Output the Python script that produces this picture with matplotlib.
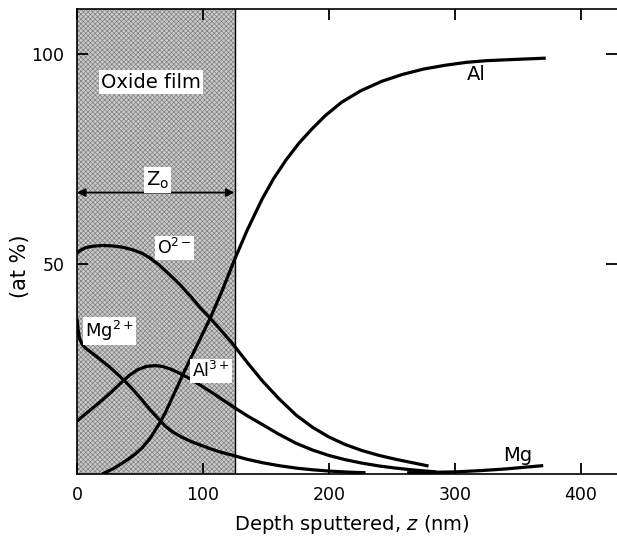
import matplotlib.pyplot as plt
import numpy as np

plt.rcParams['font.family'] = 'DejaVu Sans'
plt.rcParams['mathtext.fontset'] = 'dejavusans'
plt.rcParams['hatch.linewidth'] = 0.5

# depth profiles (at %) vs depth sputtered (nm)
al_x = [20, 25, 30, 35, 40, 46, 52, 58, 65, 70, 75, 80, 85, 91, 97, 106, 115, 125, 135, 147, 156, 166,
        176, 186, 197, 210, 225, 242, 258, 275, 292, 309, 325, 340, 356, 372]
al_y = [0, 0.7, 1.5, 2.4, 3.4, 4.7, 6.3, 8.5, 11.8, 14.5, 17.8, 21, 24.3, 28, 31.7, 37.3, 43.5, 51, 58, 65.5, 70.3, 74.8,
        78.7, 82, 85.3, 88.5, 91.2, 93.5, 95.1, 96.4, 97.3, 98, 98.4, 98.6, 98.8, 99]

o_x = [0, 3, 7, 12, 20, 28, 36, 44, 52, 58, 65, 73, 82, 91, 98, 106, 114, 123, 135, 147, 160, 174,
       187, 200, 213, 226, 240, 253, 266, 279]
o_y = [52.6, 53.3, 53.9, 54.2, 54.4, 54.3, 54, 53.4, 52.5, 51.4, 49.8, 47.6, 45, 42, 39.5, 37, 34.3, 31.2, 26.6, 22.2, 18, 14,
       11.1, 8.8, 7, 5.6, 4.4, 3.5, 2.7, 1.9]

al3_x = [0, 6, 12, 20, 28, 36, 42, 48, 55, 62, 68, 75, 82, 89, 97, 105, 115, 126, 136, 147, 160, 174,
         187, 200, 213, 226, 240, 253, 269, 285]
al3_y = [12.6, 14.1, 15.6, 17.6, 19.7, 22, 23.6, 24.8, 25.6, 25.8, 25.6, 24.9, 23.9, 22.8, 21.3, 19.8, 17.8, 15.6, 13.7, 11.8, 9.5, 7.3,
         5.7, 4.4, 3.4, 2.6, 1.9, 1.4, 0.9, 0.5]

mg2_x = [0, 0.8, 2, 4, 7, 11, 17, 25, 32, 39, 45, 52, 58, 65, 70, 76, 83, 90, 97, 105, 114, 123,
         135, 147, 160, 174, 187, 200, 215, 229]
mg2_y = [37, 34.5, 32.3, 30.9, 29.9, 29, 27.6, 25.7, 23.8, 21.8, 19.9, 17.5, 15.3, 13, 11.4, 10, 8.8, 7.8, 7, 6.1, 5.2, 4.5,
         3.5, 2.7, 2, 1.4, 1, 0.7, 0.45, 0.3]

mg_x = [262, 280, 300, 320, 340, 355, 370]
mg_y = [0.3, 0.4, 0.5, 0.8, 1.2, 1.6, 2.0]

oxide_z0 = 125

fig = plt.figure(figsize=(6.17, 5.37), dpi=100)
ax = fig.add_axes([77/617, 63/537, 540/617, 465/537])

ax.axvspan(0, oxide_z0, facecolor='#cacaca', edgecolor='#808080', hatch='xxxxxxx', linewidth=0, zorder=0)
ax.axvline(oxide_z0, color='black', linewidth=1, zorder=1)

lw = 2.3
for xs, ys in [(al_x, al_y), (o_x, o_y), (al3_x, al3_y), (mg2_x, mg2_y), (mg_x, mg_y)]:
    ax.plot(xs, ys, color='black', linewidth=lw, solid_capstyle='butt', solid_joinstyle='round', zorder=3)

ax.annotate('', xy=(0, 67), xytext=(oxide_z0, 67),
            arrowprops=dict(arrowstyle='<|-|>', color='black', lw=1.3, mutation_scale=12,
                            shrinkA=0, shrinkB=0), zorder=4)

box = dict(facecolor='white', edgecolor='none', pad=1.5)
ax.text(59, 93.3, 'Oxide film', fontsize=14, ha='center', va='center', bbox=box, zorder=5)
ax.text(64, 70, r'Z$_\mathrm{o}$', fontsize=14, ha='center', va='center', bbox=box, zorder=5)
ax.text(77, 53.8, r'O$^{2-}$', fontsize=12.5, ha='center', va='center', bbox=box, zorder=5)
ax.text(26, 34, r'Mg$^{2+}$', fontsize=13, ha='center', va='center', bbox=box, zorder=5)
ax.text(106, 24.5, r'Al$^{3+}$', fontsize=12.5, ha='center', va='center', bbox=box, zorder=5)
ax.text(317, 95.2, 'Al', fontsize=14, ha='center', va='center', zorder=5)
ax.text(350, 4.5, 'Mg', fontsize=14, ha='center', va='center', zorder=5)

ax.set_xlim(0, 540/1.26)
ax.set_ylim(0, 110.7)
ax.set_xticks([0, 100, 200, 300, 400])
ax.set_yticks([50, 100])
ax.spines['right'].set_visible(False)
for s in ['left', 'top', 'bottom']:
    ax.spines[s].set_linewidth(1.2)
ax.tick_params(direction='in', length=8, width=1.3, top=True, right=True,
               labelsize=12.5, pad=9)

ax.set_xlabel('Depth sputtered, $z$ (nm)', fontsize=14)
ax.xaxis.set_label_coords(0.509, -0.084)
ax.set_ylabel('(at %)', fontsize=15)
ax.yaxis.set_label_coords(-0.087, 0.447)

fig.savefig('out.png', dpi=100)
